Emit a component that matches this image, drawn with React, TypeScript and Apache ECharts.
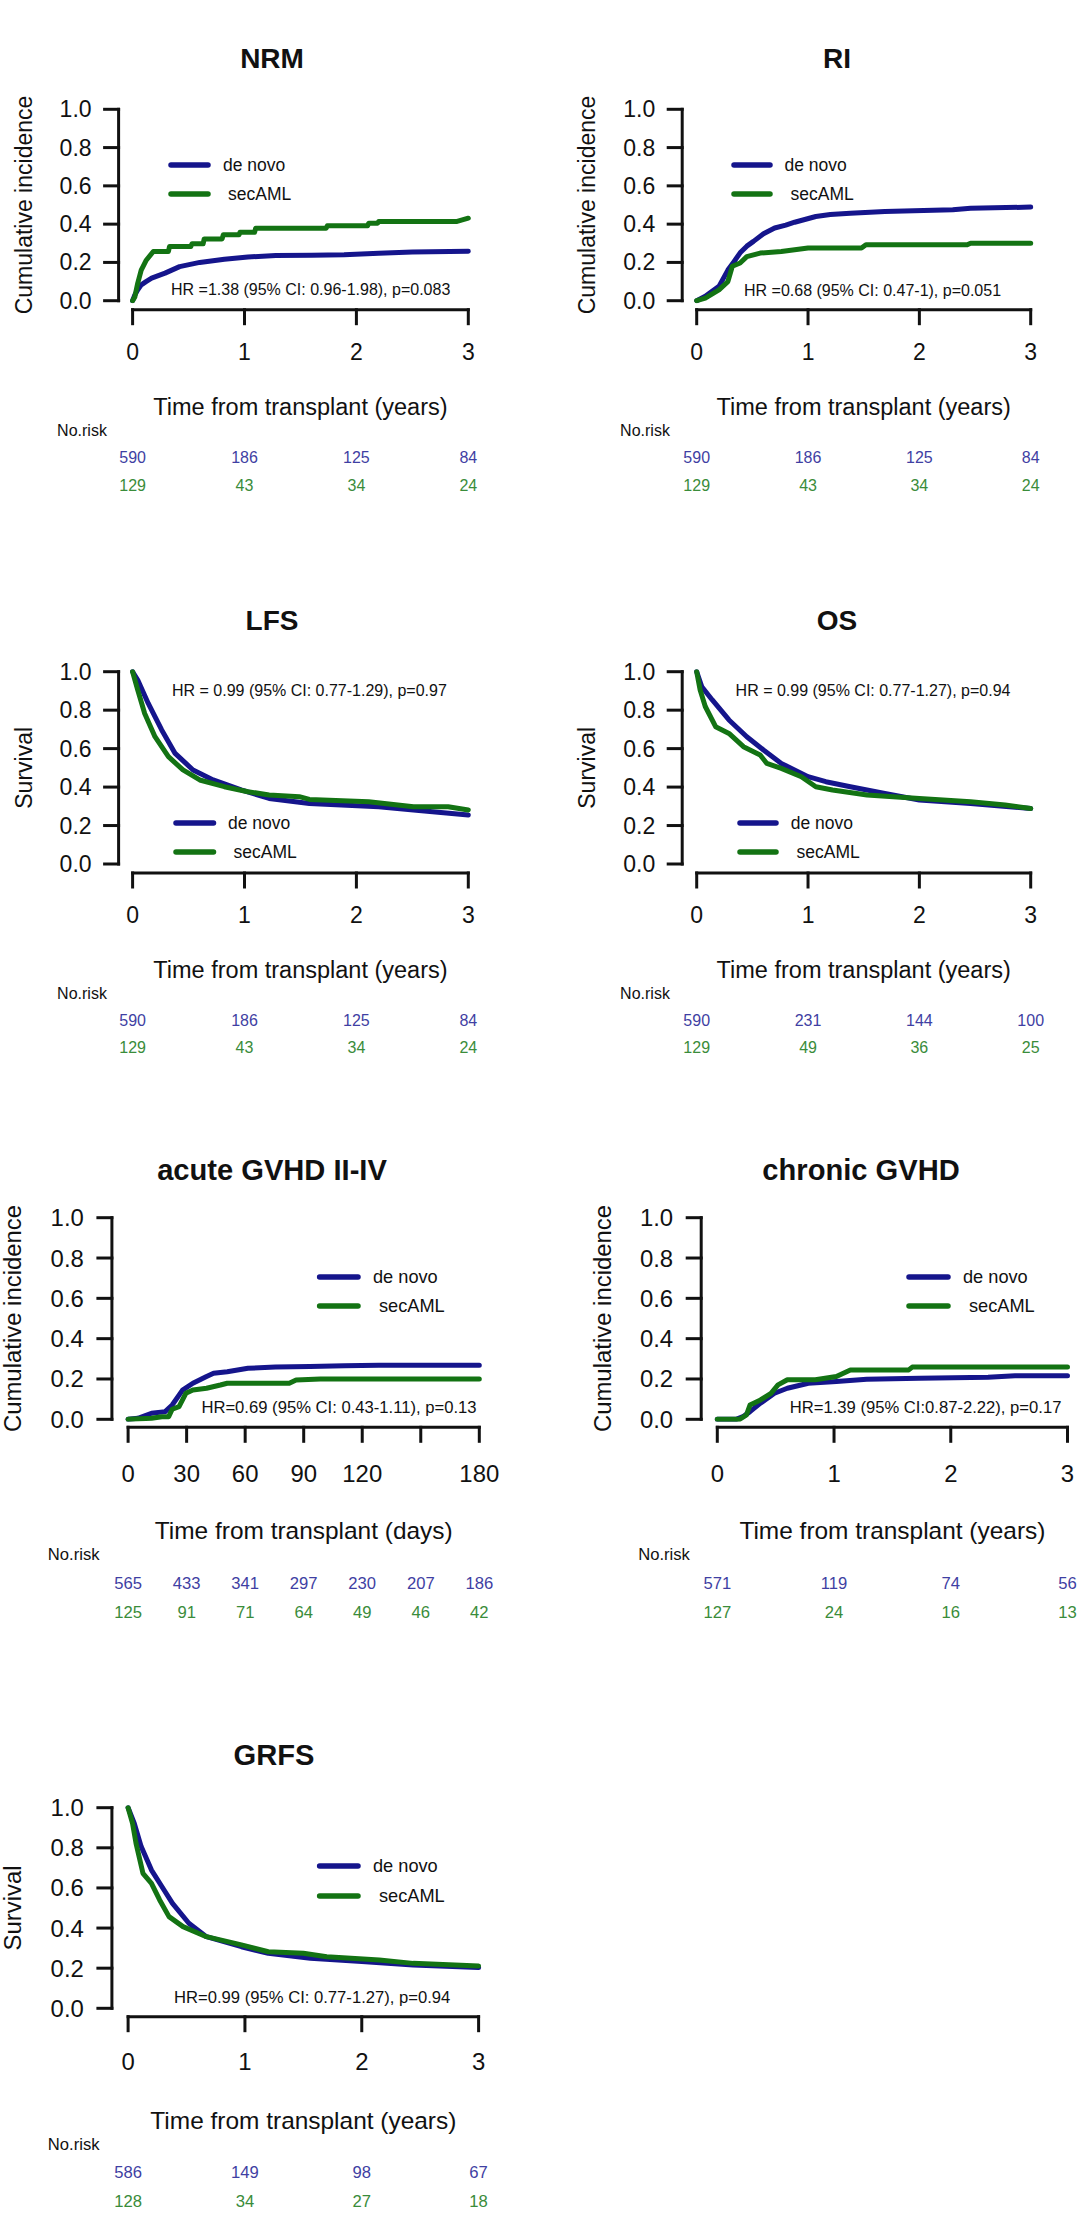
import React, { useEffect, useRef } from "react";
import * as echarts from "echarts";

const FONT = "'Liberation Sans', Arial, Helvetica, sans-serif";
const BLUE = "#15158c";
const GREEN = "#137313";
const BLUE_TXT = "#3f3fa3";
const GREEN_TXT = "#3a8c3a";
const INK = "#111111";
const AXIS_W = 3;

// ---------- data ----------
const yearTicks = [0, 1, 2, 3];
const dayTicks = [0, 30, 60, 90, 120, 150, 180];
const probTicks = [0, 0.2, 0.4, 0.6, 0.8, 1.0];
const seriesNames = ["de novo", "secAML"];

const nrmDeNovo = [[0, 0], [0.02, 0.03], [0.046, 0.057], [0.077, 0.083], [0.12, 0.1], [0.17, 0.118], [0.29, 0.144], [0.42, 0.178], [0.6, 0.2], [0.82, 0.217], [1.03, 0.228], [1.28, 0.236], [1.6, 0.238], [1.89, 0.24], [2.2, 0.248], [2.5, 0.254], [3.0, 0.258]];
const nrmSecAML = [[0, 0], [0.02, 0.02], [0.046, 0.092], [0.077, 0.16], [0.12, 0.21], [0.185, 0.257], [0.32, 0.257], [0.33, 0.283], [0.52, 0.283], [0.53, 0.297], [0.63, 0.297], [0.64, 0.323], [0.8, 0.323], [0.81, 0.344], [0.95, 0.344], [0.96, 0.357], [1.09, 0.357], [1.1, 0.379], [1.73, 0.379], [1.74, 0.391], [2.1, 0.391], [2.11, 0.405], [2.19, 0.405], [2.2, 0.414], [2.9, 0.414], [3.0, 0.431]];

const riDeNovo = [[0, 0], [0.077, 0.023], [0.2, 0.075], [0.28, 0.16], [0.33, 0.2], [0.39, 0.25], [0.45, 0.285], [0.51, 0.31], [0.6, 0.35], [0.7, 0.38], [0.8, 0.395], [0.88, 0.41], [1.07, 0.44], [1.2, 0.45], [1.38, 0.457], [1.69, 0.466], [2.3, 0.475], [2.46, 0.483], [3.0, 0.489]];
const riSecAML = [[0, 0], [0.077, 0.014], [0.2, 0.057], [0.28, 0.1], [0.32, 0.18], [0.39, 0.197], [0.45, 0.23], [0.57, 0.249], [0.76, 0.257], [1.0, 0.275], [1.48, 0.275], [1.52, 0.292], [2.43, 0.292], [2.46, 0.3], [3.0, 0.3]];

const lfsDeNovo = [[0, 1], [0.046, 0.957], [0.14, 0.835], [0.26, 0.697], [0.38, 0.575], [0.54, 0.489], [0.72, 0.437], [0.97, 0.385], [1.22, 0.341], [1.58, 0.315], [2.2, 0.298], [2.51, 0.281], [3.0, 0.255]];
const lfsSecAML = [[0, 1], [0.046, 0.905], [0.108, 0.783], [0.2, 0.662], [0.32, 0.558], [0.45, 0.489], [0.6, 0.437], [0.82, 0.402], [1.03, 0.376], [1.22, 0.359], [1.49, 0.35], [1.58, 0.336], [2.11, 0.324], [2.51, 0.298], [2.82, 0.298], [3.0, 0.281]];

const osDeNovo = [[0, 1], [0.046, 0.922], [0.14, 0.853], [0.29, 0.749], [0.45, 0.662], [0.6, 0.593], [0.76, 0.523], [1.0, 0.454], [1.16, 0.428], [1.38, 0.402], [1.69, 0.367], [2.0, 0.333], [2.46, 0.315], [3.0, 0.289]];
const osSecAML = [[0, 1], [0.031, 0.905], [0.077, 0.819], [0.17, 0.714], [0.29, 0.679], [0.42, 0.61], [0.57, 0.567], [0.63, 0.523], [0.76, 0.497], [0.94, 0.454], [1.07, 0.402], [1.22, 0.385], [1.53, 0.359], [2.0, 0.341], [2.46, 0.324], [2.77, 0.307], [3.0, 0.289]];

const agvhdDeNovo = [[0, 0], [5, 0.005], [12, 0.03], [19, 0.038], [22.6, 0.071], [27.9, 0.145], [33.2, 0.179], [40.2, 0.212], [43.8, 0.228], [50.8, 0.236], [61.4, 0.253], [75.5, 0.259], [93.2, 0.262], [110.8, 0.266], [128.5, 0.268], [180, 0.268]];
const agvhdSecAML = [[0, 0], [12, 0.005], [17.3, 0.013], [20.8, 0.013], [22.6, 0.05], [26.1, 0.063], [29.6, 0.129], [33.2, 0.145], [40.2, 0.154], [47.3, 0.17], [50.8, 0.179], [82.6, 0.179], [86.1, 0.195], [98.5, 0.2], [180, 0.2]];

const cgvhdDeNovo = [[0, 0], [0.16, 0], [0.22, 0.013], [0.28, 0.038], [0.37, 0.08], [0.49, 0.129], [0.6, 0.154], [0.78, 0.179], [1.02, 0.187], [1.28, 0.199], [1.73, 0.204], [2.32, 0.209], [2.55, 0.216], [3.0, 0.216]];
const cgvhdSecAML = [[0, 0], [0.19, 0], [0.25, 0.022], [0.28, 0.071], [0.37, 0.096], [0.46, 0.129], [0.52, 0.171], [0.6, 0.196], [0.84, 0.196], [1.02, 0.212], [1.14, 0.245], [1.64, 0.245], [1.67, 0.259], [3.0, 0.259]];

const grfsDeNovo = [[0, 1], [0.053, 0.922], [0.112, 0.806], [0.2, 0.689], [0.29, 0.606], [0.38, 0.523], [0.52, 0.424], [0.67, 0.357], [0.97, 0.307], [1.2, 0.274], [1.56, 0.249], [2.0, 0.233], [2.44, 0.216], [3.0, 0.203]];
const grfsSecAML = [[0, 1], [0.038, 0.922], [0.068, 0.822], [0.127, 0.673], [0.2, 0.623], [0.27, 0.54], [0.35, 0.457], [0.47, 0.407], [0.67, 0.357], [0.97, 0.316], [1.2, 0.282], [1.5, 0.274], [1.7, 0.257], [2.15, 0.241], [2.44, 0.224], [3.0, 0.211]];

const nrmRisk = [[590, 186, 125, 84], [129, 43, 34, 24]];
const riRisk = [[590, 186, 125, 84], [129, 43, 34, 24]];
const lfsRisk = [[590, 186, 125, 84], [129, 43, 34, 24]];
const osRisk = [[590, 231, 144, 100], [129, 49, 36, 25]];
const agvhdRisk = [[565, 433, 341, 297, 230, 207, 186], [125, 91, 71, 64, 49, 46, 42]];
const cgvhdRisk = [[571, 119, 74, 56], [127, 24, 16, 13]];
const grfsRisk = [[586, 149, 98, 67], [128, 34, 27, 18]];

const titles = ["NRM", "RI", "LFS", "OS", "acute GVHD II-IV", "chronic GVHD", "GRFS"];
const hrTexts = [
  "HR =1.38 (95% CI: 0.96-1.98), p=0.083",
  "HR =0.68 (95% CI: 0.47-1), p=0.051",
  "HR = 0.99 (95% CI: 0.77-1.29), p=0.97",
  "HR = 0.99 (95% CI: 0.77-1.27), p=0.94",
  "HR=0.69 (95% CI: 0.43-1.11), p=0.13",
  "HR=1.39 (95% CI:0.87-2.22), p=0.17",
  "HR=0.99 (95% CI: 0.77-1.27), p=0.94",
];
const yNames = ["Cumulative incidence", "Cumulative incidence", "Survival", "Survival", "Cumulative incidence", "Cumulative incidence", "Survival"];
const xNames = [
  "Time from transplant (years)", "Time from transplant (years)", "Time from transplant (years)", "Time from transplant (years)",
  "Time from transplant (days)", "Time from transplant (years)", "Time from transplant (years)",
];
const hiddenDayLabels = [150];

// ---------- layout ----------
type Layout = {
  left: number; top: number; width: number; height: number; s: number;
  xOff: number; yOff: number; xLab: number; rb: number; rg: number;
  titleX: number; titleY: number; xNameY: number; yNameX: number;
  nrX: number; nrY: number; hrX: number; hrY: number;
  lgX1: number; lgX2: number; lgT1: number; lgT2: number; lgY1: number; lgY2: number;
};

const layouts: Layout[] = [
  { left: 132.6, top: 109.3, width: 335.7, height: 191.4, s: 1, xOff: 9, yOff: 14, xLab: 42.5, rb: 157, rg: 185,
    titleX: 272, titleY: 58, xNameY: 407, yNameX: 24, nrX: 82, nrY: 430, hrX: 171, hrY: 289,
    lgX1: 171, lgX2: 208, lgT1: 223, lgT2: 228, lgY1: 165, lgY2: 194 },
  { left: 696.7, top: 109.3, width: 334, height: 191.4, s: 1, xOff: 9, yOff: 14.5, xLab: 42.5, rb: 157, rg: 185,
    titleX: 837, titleY: 58, xNameY: 407, yNameX: 586.5, nrX: 645, nrY: 430, hrX: 744, hrY: 290,
    lgX1: 734, lgX2: 770, lgT1: 784.5, lgT2: 790.5, lgY1: 165, lgY2: 194 },
  { left: 132.6, top: 671.7, width: 335.7, height: 192.3, s: 1, xOff: 9, yOff: 14, xLab: 42, rb: 156, rg: 183.3,
    titleX: 272, titleY: 620, xNameY: 970, yNameX: 24, nrX: 82, nrY: 993, hrX: 172, hrY: 690,
    lgX1: 176, lgX2: 213.5, lgT1: 228, lgT2: 233.5, lgY1: 823, lgY2: 852 },
  { left: 696.7, top: 671.7, width: 334, height: 192.3, s: 1, xOff: 9, yOff: 14.5, xLab: 42, rb: 156, rg: 183.3,
    titleX: 837, titleY: 620, xNameY: 970, yNameX: 586.5, nrX: 645, nrY: 993, hrX: 735.6, hrY: 690,
    lgX1: 740, lgX2: 776, lgT1: 790.7, lgT2: 796.5, lgY1: 823, lgY2: 852 },
  { left: 128.1, top: 1217.7, width: 351.2, height: 201.6, s: 1.04, xOff: 8, yOff: 16.2, xLab: 46, rb: 164, rg: 193.4,
    titleX: 272, titleY: 1170, xNameY: 1530, yNameX: 12, nrX: 73.7, nrY: 1554, hrX: 201.4, hrY: 1407,
    lgX1: 319.6, lgX2: 358, lgT1: 373, lgT2: 379, lgY1: 1277, lgY2: 1306 },
  { left: 717.3, top: 1217.7, width: 350.2, height: 201.6, s: 1.04, xOff: 8, yOff: 16.1, xLab: 46, rb: 164, rg: 193.4,
    titleX: 861, titleY: 1170, xNameY: 1530, yNameX: 602, nrX: 664, nrY: 1554, hrX: 789.7, hrY: 1407,
    lgX1: 909, lgX2: 948, lgT1: 963, lgT2: 969, lgY1: 1277, lgY2: 1306 },
  { left: 128.1, top: 1807.7, width: 350.5, height: 200.6, s: 1.04, xOff: 8.4, yOff: 16.2, xLab: 45, rb: 164.4, rg: 193.4,
    titleX: 274, titleY: 1755, xNameY: 2120, yNameX: 12, nrX: 73.7, nrY: 2144, hrX: 174, hrY: 1997,
    lgX1: 319.6, lgX2: 358, lgT1: 373, lgT2: 379, lgY1: 1866, lgY2: 1896 },
];

const curves = [
  [nrmDeNovo, nrmSecAML], [riDeNovo, riSecAML], [lfsDeNovo, lfsSecAML], [osDeNovo, osSecAML],
  [agvhdDeNovo, agvhdSecAML], [cgvhdDeNovo, cgvhdSecAML], [grfsDeNovo, grfsSecAML],
];
const risks = [nrmRisk, riRisk, lfsRisk, osRisk, agvhdRisk, cgvhdRisk, grfsRisk];
const tickSets = [yearTicks, yearTicks, yearTicks, yearTicks, dayTicks, yearTicks, yearTicks];
const TICK_LEN = 14;

function txt(text: string, x: number, y: number, size: number, extra: any = {}) {
  return {
    type: "text", x, y, silent: true, rotation: extra.rotation || 0,
    style: {
      text, fill: extra.fill || INK, fontSize: size, fontFamily: FONT, fontWeight: extra.bold ? "bold" : "normal",
      align: extra.align || "center", textAlign: extra.align || "center",
      verticalAlign: "middle", textVerticalAlign: "middle",
    },
  };
}

function seg(x1: number, y1: number, x2: number, y2: number) {
  return {
    type: "line", silent: true,
    shape: { x1, y1, x2, y2 },
    style: { stroke: INK, lineWidth: AXIS_W, lineCap: "square" },
  };
}

function buildOption() {
  const grid: any[] = [];
  const xAxis: any[] = [];
  const yAxis: any[] = [];
  const series: any[] = [];
  const graphic: any[] = [];

  layouts.forEach((L, i) => {
    const ticks = tickSets[i];
    const step = ticks[1] - ticks[0];
    const xMin = ticks[0];
    const xMax = ticks[ticks.length - 1];
    const s = L.s;
    grid.push({ left: L.left, top: L.top, width: L.width, height: L.height, containLabel: false, outerBoundsMode: "none" });

    xAxis.push({
      type: "value", gridIndex: i, min: xMin, max: xMax, interval: step, position: "bottom", offset: L.xOff,
      axisLine: { show: false, onZero: false },
      axisTick: { show: false },
      splitLine: { show: false },
      axisLabel: {
        margin: L.xLab, verticalAlign: "middle", color: INK, fontSize: 23 * s, fontFamily: FONT,
        formatter: (v: number) => (ticks === dayTicks && hiddenDayLabels.indexOf(v) >= 0 ? "" : String(v)),
        showMinLabel: true, showMaxLabel: true,
      },
    });
    [0, 1].forEach((k) => {
      const row = risks[i][k];
      xAxis.push({
        type: "value", gridIndex: i, min: xMin, max: xMax, interval: step, position: "bottom",
        offset: k === 0 ? L.rb : L.rg,
        axisLine: { show: false, onZero: false }, axisTick: { show: false }, splitLine: { show: false },
        axisLabel: {
          margin: 0, verticalAlign: "middle", color: k === 0 ? BLUE_TXT : GREEN_TXT, fontSize: 16 * s, fontFamily: FONT,
          showMinLabel: true, showMaxLabel: true,
          formatter: (v: number) => {
            const idx = Math.round((v - xMin) / step);
            return row[idx] !== undefined ? String(row[idx]) : "";
          },
        },
      });
    });

    yAxis.push({
      type: "value", gridIndex: i, min: 0, max: 1, interval: 0.2, position: "left", offset: L.yOff,
      axisLine: { show: false, onZero: false },
      axisTick: { show: false },
      splitLine: { show: false },
      axisLabel: { margin: 27 * s, color: INK, fontSize: 23 * s, fontFamily: FONT, formatter: (v: number) => v.toFixed(1), showMinLabel: true, showMaxLabel: true },
    });

    [0, 1].forEach((k) => {
      series.push({
        type: "line", name: seriesNames[k], xAxisIndex: i * 3, yAxisIndex: i, data: curves[i][k],
        showSymbol: false, symbol: "none", smooth: false, clip: true,
        lineStyle: { color: k === 0 ? BLUE : GREEN, width: 5, cap: "round", join: "round" },
        itemStyle: { color: k === 0 ? BLUE : GREEN },
        emphasis: { disabled: true }, silent: true, z: 3 + k,
      });
    });

    // R-style axis lines and ticks (same linear mapping as the value axes)
    const px = (v: number) => L.left + ((v - xMin) / (xMax - xMin)) * L.width;
    const py = (v: number) => L.top + L.height - v * L.height;
    const axisY = L.top + L.height + L.xOff;
    const axisX = L.left - L.yOff;
    graphic.push(seg(px(xMin), axisY, px(xMax), axisY));
    ticks.forEach((t) => graphic.push(seg(px(t), axisY, px(t), axisY + TICK_LEN)));
    graphic.push(seg(axisX, py(0), axisX, py(1)));
    probTicks.forEach((v) => graphic.push(seg(axisX - TICK_LEN, py(v), axisX, py(v))));

    graphic.push(txt(titles[i], L.titleX, L.titleY, 28 * s, { bold: true }));
    graphic.push(txt(xNames[i], L.left + L.width / 2, L.xNameY, 23.5 * s));
    graphic.push(txt(yNames[i], L.yNameX, L.top + L.height / 2, 23 * s, { rotation: Math.PI / 2 }));
    graphic.push(txt("No.risk", L.nrX, L.nrY, 16 * s));
    graphic.push(txt(hrTexts[i], L.hrX, L.hrY, 16 * s, { align: "left" }));
    [0, 1].forEach((k) => {
      const y = k === 0 ? L.lgY1 : L.lgY2;
      graphic.push({
        type: "line", silent: true,
        shape: { x1: L.lgX1, y1: y, x2: L.lgX2, y2: y },
        style: { stroke: k === 0 ? BLUE : GREEN, lineWidth: 5.5, lineCap: "round" },
      });
      graphic.push(txt(seriesNames[k], k === 0 ? L.lgT1 : L.lgT2, y, 17.5 * s, { align: "left" }));
    });
  });

  return {
    animation: false,
    backgroundColor: "#ffffff",
    grid, xAxis, yAxis, series, graphic,
    tooltip: { show: false },
  };
}

export default function App() {
  const ref = useRef<HTMLDivElement | null>(null);
  useEffect(() => {
    if (!ref.current) return;
    const chart = echarts.init(ref.current, null, { renderer: "svg", width: 1080, height: 2222 });
    chart.setOption(buildOption() as any);
    return () => chart.dispose();
  }, []);
  return (
    <div
      ref={ref}
      style={{ position: "absolute", left: 0, top: 0, width: 1080, height: 2222, background: "#fff" }}
    />
  );
}
